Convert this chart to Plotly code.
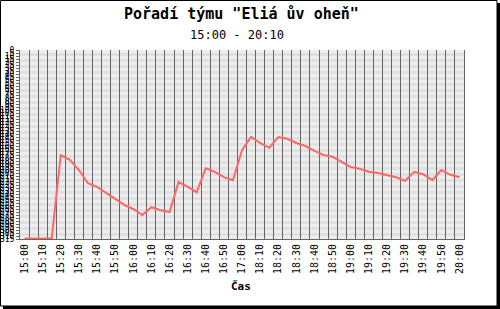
import plotly.graph_objects as go

# ---- data ----
times = ["15:00", "15:05", "15:10", "15:15", "15:20", "15:25", "15:30", "15:35",
         "15:40", "15:45", "15:50", "15:55", "16:00", "16:05", "16:10", "16:15",
         "16:20", "16:25", "16:30", "16:35", "16:40", "16:45", "16:50", "16:55",
         "17:00", "18:05", "18:10", "18:15", "18:20", "18:25", "18:30", "18:35",
         "18:40", "18:45", "18:50", "18:55", "19:00", "19:05", "19:10", "19:15",
         "19:20", "19:25", "19:30", "19:35", "19:40", "19:45", "19:50", "19:55",
         "20:00"]
rank = [314, 314, 314, 314, 175, 183, 200, 222, 228, 238, 247, 258, 265, 275,
        262, 267, 270, 220, 228, 237, 197, 203, 212, 217, 167, 145, 155, 163,
        145, 148, 155, 160, 168, 175, 178, 187, 195, 198, 203, 205, 208, 212,
        218, 203, 207, 217, 200, 208, 212]
y_max = 315
y_step = 5

title_text = "Pořadí týmu \"Eliá ův oheň\""
subtitle_text = "15:00 - 20:10"
x_title = "Čas"

# ---- layout geometry (pixels) ----
Wd, Ht = 500, 309
L, R, T, B = 20, 36, 50, 70
PW, PH = Wd - L - R, Ht - T - B


def px(x):
    return (x - L) / PW


def py(y):
    return (Ht - B - y) / PH


MONO = "DejaVu Sans Mono"
xs = list(range(len(times)))

fig = go.Figure()
fig.add_trace(go.Scatter(
    x=xs, y=rank, mode="lines",
    line=dict(color="#ff6666", width=2),
    hoverinfo="skip", showlegend=False,
))

shapes = []
# alternating horizontal bands
for k in range(y_max // y_step):
    shapes.append(dict(
        type="rect", xref="paper", yref="y", x0=0, x1=1,
        y0=k * y_step, y1=(k + 1) * y_step, layer="below",
        line=dict(width=0),
        fillcolor="#eeeeee" if k % 2 == 0 else "#e0e0e0",
    ))
# image frame with shadow
shapes.append(dict(type="rect", xref="paper", yref="paper",
                   x0=px(0.5), x1=px(497), y0=py(0.5), y1=py(306),
                   line=dict(color="black", width=1), fillcolor="rgba(0,0,0,0)"))
shapes.append(dict(type="rect", xref="paper", yref="paper",
                   x0=px(497), x1=px(500), y0=py(3), y1=py(309),
                   line=dict(width=0), fillcolor="black"))
shapes.append(dict(type="rect", xref="paper", yref="paper",
                   x0=px(3), x1=px(500), y0=py(306), y1=py(309),
                   line=dict(width=0), fillcolor="black"))

annotations = [
    dict(text="<b>" + title_text + "</b>", xref="paper", yref="paper",
         x=px(241.5), y=py(14), xanchor="center", yanchor="middle",
         showarrow=False, font=dict(family=MONO, size=15, color="black")),
    dict(text=subtitle_text, xref="paper", yref="paper",
         x=px(237), y=py(35), xanchor="center", yanchor="middle",
         showarrow=False, font=dict(family=MONO, size=12, color="black")),
    dict(text="<b>" + x_title + "</b>", xref="paper", yref="paper",
         x=px(241), y=py(286), xanchor="center", yanchor="middle",
         showarrow=False, font=dict(family=MONO, size=11, color="black")),
]

fig.update_layout(
    width=Wd, height=Ht,
    margin=dict(l=L, r=R, t=T, b=B, pad=0, autoexpand=False),
    paper_bgcolor="white", plot_bgcolor="white",
    shapes=shapes, annotations=annotations,
    xaxis=dict(
        automargin=False,
        range=[-0.5, len(times) - 0.5],
        tickmode="array", tickvals=xs[::2], ticktext=times[::2],
        tickangle=-90, tickfont=dict(family=MONO, size=10, color="black"),
        showgrid=False, zeroline=False,
        showline=True, linecolor="#666666", linewidth=1,
        ticks="",
        minor=dict(tick0=-0.5, dtick=1, showgrid=True,
                   gridcolor="#666666", gridwidth=1, ticks=""),
    ),
    yaxis=dict(
        automargin=False,
        range=[y_max, 0], tickmode="linear", tick0=0, dtick=y_step,
        tickfont=dict(family=MONO, size=8, color="black"),
        showgrid=False, zeroline=False,
        showline=True, mirror=True, linecolor="#666666", linewidth=1,
        ticks="outside", ticklen=3, tickcolor="#666666",
    ),
)

fig.write_html("out.html")
